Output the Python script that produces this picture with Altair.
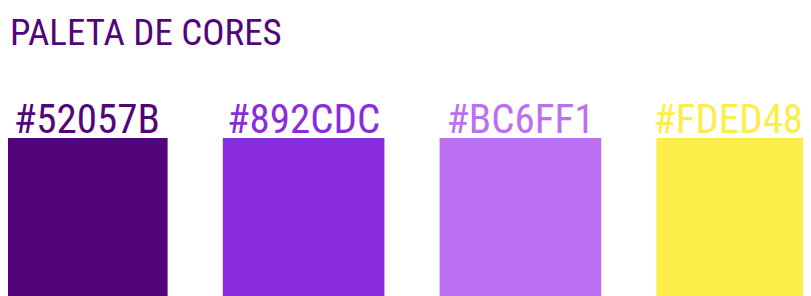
import altair as alt
import pandas as pd

title_text = "PALETA DE CORES"
hex_codes = ["#52057B", "#892CDC", "#BC6FF1", "#FDED48"]

df = pd.DataFrame({"hex": hex_codes})

FONT = "Roboto Condensed, Liberation Sans, Arial, sans-serif"

x_enc = alt.X(
    "hex:N",
    sort=hex_codes,
    axis=None,
    scale=alt.Scale(range=[-2, 810], paddingInner=0.2545, paddingOuter=0),
)
color_enc = alt.Color("hex:N", scale=alt.Scale(domain=hex_codes, range=hex_codes), legend=None)

swatches = alt.Chart(df).mark_rect().encode(
    x=x_enc,
    y=alt.value(0),
    y2=alt.value(170),
    color=color_enc,
)

label_props = dict(font=FONT, fontSize=41, baseline="alphabetic", align="center")

labels = alt.Chart(df).transform_filter(
    alt.datum.hex != hex_codes[-1]
).mark_text(**label_props).encode(
    x=x_enc,
    y=alt.value(-5),
    text="hex:N",
    color=color_enc,
)

# last label nudged left so it stays inside the page edge
label_last = alt.Chart(df).transform_filter(
    alt.datum.hex == hex_codes[-1]
).mark_text(dx=-9, **label_props).encode(
    x=x_enc,
    y=alt.value(-5),
    text="hex:N",
    color=color_enc,
)

chart = (
    alt.layer(swatches, labels, label_last)
    .properties(
        width=795,
        height=158,
        autosize=alt.AutoSizeParams(type="none"),
        padding={"top": 130, "left": 0, "right": 0, "bottom": 0},
        title=alt.TitleParams(
            text=title_text,
            anchor="start",
            frame="group",
            font=FONT,
            fontSize=37,
            fontWeight="normal",
            color="#52057B",
            baseline="alphabetic",
            offset=18,
            dx=2,
        ),
    )
    .configure_view(stroke=None)
)

chart.save("out.html", embed_options={"renderer": "svg", "actions": False})
